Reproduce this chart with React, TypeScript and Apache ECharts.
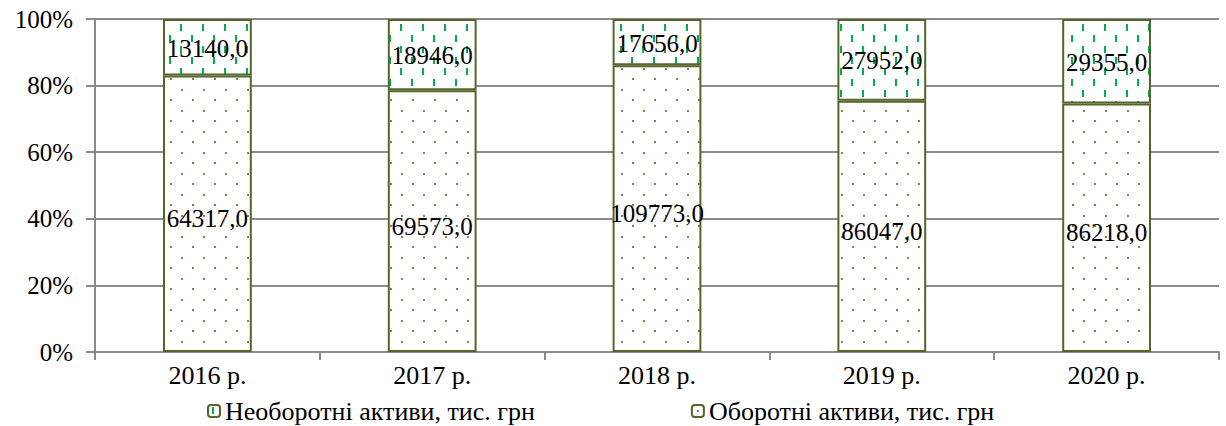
import React, { useEffect, useRef } from "react";
import * as echarts from "echarts";

// Years shown on the category axis
const years = ["2016 р.", "2017 р.", "2018 р.", "2019 р.", "2020 р."];
// Non-current assets, thousand UAH
const nonCurrentAssets = [13140.0, 18946.0, 17656.0, 27952.0, 29355.0];
// Current assets, thousand UAH
const currentAssets = [64317.0, 69573.0, 109773.0, 86047.0, 86218.0];
const nonCurrentName = "Необоротні активи, тис. грн";
const currentName = "Оборотні активи, тис. грн";

const FONT = "Liberation Serif";
const GRID_GREY = "#8a8a8a";
const BORDER = "#55652a";

function makeTile(draw: (ctx: CanvasRenderingContext2D) => void, w: number, h: number) {
  const c = document.createElement("canvas");
  c.width = w;
  c.height = h;
  const ctx = c.getContext("2d")!;
  ctx.fillStyle = "#ffffff";
  ctx.fillRect(0, 0, w, h);
  draw(ctx);
  return c;
}

const fmt = (v: number) => v.toFixed(1).replace(".", ",");

export default function App() {
  const ref = useRef<HTMLDivElement>(null);

  useEffect(() => {
    if (!ref.current) return;
    const chart = echarts.init(ref.current, undefined, { renderer: "svg" });

    // Staggered green dashes
    const dashTile = makeTile((ctx) => {
      ctx.fillStyle = "#00b050";
      ctx.fillRect(4, 2, 2, 7);
      ctx.fillRect(15, 13, 2, 7);
    }, 22, 22);
    // Staggered olive dots
    const dotTile = makeTile((ctx) => {
      ctx.fillStyle = "#7f8250";
      ctx.fillRect(5, 5, 2, 2);
      ctx.fillRect(16, 15, 2, 2);
    }, 22, 21);

    const totals = years.map((_, i) => nonCurrentAssets[i] + currentAssets[i]);
    const pct = (arr: number[]) =>
      arr.map((v, i) => ({ value: (v / totals[i]) * 100, raw: v }));

    const labelBase = {
      show: true,
      position: "inside" as const,
      color: "#000",
      fontFamily: FONT,
      fontSize: 25,
    };

    chart.setOption({
      animation: false,
      grid: { left: 95, right: 7, top: 19, bottom: 74 },
      legend: {
        left: 207,
        top: 398,
        padding: 0,
        itemGap: 156,
        itemWidth: 12,
        itemHeight: 12,
        textStyle: { fontFamily: FONT, fontSize: 26, lineHeight: 26, color: "#000" },
        data: [nonCurrentName, currentName],
      },
      xAxis: {
        type: "category",
        data: years,
        axisLine: { lineStyle: { color: GRID_GREY, width: 2 } },
        axisTick: { show: true, length: 8, lineStyle: { color: GRID_GREY, width: 2 } },
        axisLabel: { fontFamily: FONT, fontSize: 26, color: "#000", margin: 10 },
      },
      yAxis: {
        type: "value",
        min: 0,
        max: 100,
        interval: 20,
        axisLine: { show: true, lineStyle: { color: GRID_GREY, width: 2 } },
        axisTick: { show: true, length: 9, lineStyle: { color: GRID_GREY, width: 2 } },
        splitLine: { lineStyle: { color: GRID_GREY, width: 2 } },
        axisLabel: {
          formatter: "{value}%",
          fontFamily: FONT,
          fontSize: 25,
          color: "#000",
          margin: 22,
        },
      },
      series: [
        {
          name: currentName,
          type: "bar",
          stack: "total",
          barWidth: "39.5%",
          data: pct(currentAssets),
          itemStyle: {
            color: { image: dotTile, repeat: "repeat", imageWidth: 22, imageHeight: 21 },
            borderColor: BORDER,
            borderWidth: 2,
          },
          label: {
            ...labelBase,
            offset: [0, 5],
            formatter: (p: any) => fmt(p.data.raw),
          },
        },
        {
          name: nonCurrentName,
          type: "bar",
          stack: "total",
          barWidth: "39.5%",
          data: pct(nonCurrentAssets),
          itemStyle: {
            color: { image: dashTile, repeat: "repeat", imageWidth: 22, imageHeight: 22 },
            borderColor: BORDER,
            borderWidth: 2,
          },
          label: {
            ...labelBase,
            offset: [0, 1],
            formatter: (p: any) => fmt(p.data.raw),
          },
        },
      ],
    });

    return () => chart.dispose();
  }, []);

  return (
    <div
      ref={ref}
      style={{ width: 1226, height: 426, position: "absolute", left: 0, top: 0 }}
    />
  );
}
